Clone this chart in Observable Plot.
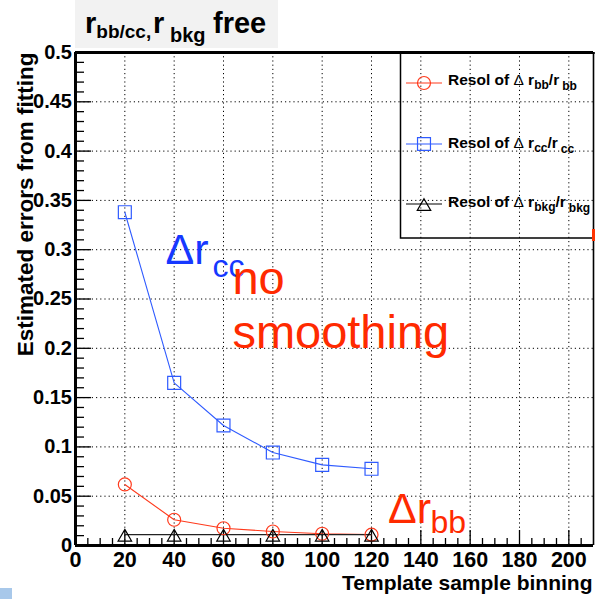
<!DOCTYPE html>
<html><head><meta charset="utf-8">
<script src="https://cdn.jsdelivr.net/npm/d3@7"></script>
<script src="https://cdn.jsdelivr.net/npm/@observablehq/plot@0.6"></script>
<style>
html,body{margin:0;padding:0;background:#fff;overflow:hidden;width:595px;height:599px;}
#wrap{position:relative;width:595px;height:599px;overflow:hidden;font-family:"Liberation Sans",Arial,sans-serif;}
#wrap > svg{position:absolute;left:0;top:0;}
#overlay{pointer-events:none;}
</style></head><body><div id="wrap"></div>
<script>
// ---- data ----
const binning   = [20, 40, 60, 80, 100, 120];
const resolBB   = [0.0619, 0.0261, 0.0175, 0.0142, 0.0119, 0.0110];
const resolCC   = [0.338, 0.165, 0.1217, 0.0943, 0.0818, 0.0778];
const resolBkg  = [0.011, 0.011, 0.011, 0.011, 0.011, 0.011];
const xTicks = [0, 20, 40, 60, 80, 100, 120, 140, 160, 180, 200];
const yTicks = [0, 0.05, 0.1, 0.15, 0.2, 0.25, 0.3, 0.35, 0.4, 0.45, 0.5];
const yTickLabels = ["0", "0.05", "0.1", "0.15", "0.2", "0.25", "0.3", "0.35", "0.4", "0.45", "0.5"];
const xMinor = d3.range(5, 210, 5).filter(v => v % 20 !== 0);
const yMinor = d3.range(1, 50).map(v => v / 100).filter(v => Math.round(v * 100) % 5 !== 0);
const xDomain = [0, 210], yDomain = [0, 0.5];

const RED = "#ff3a1c", BLUE = "#2f5bff", RED_T = "#ff2a00", BLUE_T = "#1638ff";

const rows = binning.map((b, i) => ({bin: b, bb: resolBB[i], cc: resolCC[i], bkg: resolBkg[i]}));

const W = 595, H = 599, mL = 75, mR = 2, mT = 52, mB = 54;
const pxX = (W - mL - mR) / (xDomain[1] - xDomain[0]);   // px per x unit
const pxY = (H - mT - mB) / (yDomain[1] - yDomain[0]);   // px per y unit
const bold = {fontWeight: "bold", fill: "black"};

const chart = Plot.plot({
  width: W, height: H,
  marginLeft: mL, marginRight: mR, marginTop: mT, marginBottom: mB,
  style: {fontFamily: "'Liberation Sans', Arial, sans-serif", background: "transparent", overflow: "visible"},
  x: {domain: xDomain, axis: null},
  y: {domain: yDomain, axis: null},
  marks: [
    // dotted grid
    Plot.ruleX(xTicks.slice(1), {x: d => d, stroke: "black", strokeWidth: 1, strokeDasharray: "1.2,3"}),
    Plot.ruleY(yTicks.slice(1, -1), {y: d => d, stroke: "black", strokeWidth: 1, strokeDasharray: "1.2,3"}),
    // ticks
    Plot.ruleX(xMinor, {x: d => d, y1: 0, y2: 7 / pxY, stroke: "black", strokeWidth: 1.3}),
    Plot.ruleX(xTicks, {x: d => d, y1: 0, y2: 15 / pxY, stroke: "black", strokeWidth: 1.3}),
    Plot.ruleY(yMinor, {y: d => d, x1: 0, x2: 9 / pxX, stroke: "black", strokeWidth: 1.3}),
    Plot.ruleY(yTicks, {y: d => d, x1: 0, x2: 16 / pxX, stroke: "black", strokeWidth: 1.3}),
    // frame
    Plot.ruleY([0], {stroke: "black", strokeWidth: 3}),
    Plot.ruleY([0.5], {stroke: "black", strokeWidth: 3}),
    Plot.ruleX([0], {stroke: "black", strokeWidth: 3}),
    Plot.ruleX([210], {stroke: "black", strokeWidth: 1.6}),
    // tick labels
    Plot.text(xTicks, {x: d => d, y: 0, text: d => String(d), dy: 15, fontSize: 21.5, lineAnchor: "middle", ...bold}),
    Plot.text(yTicks, {x: 0, y: d => d, text: (d, i) => yTickLabels[i], dx: -3.5, textAnchor: "end", fontSize: 20, lineAnchor: "middle", ...bold}),
    // axis titles
    Plot.text(["Estimated errors from fitting"], {frameAnchor: "top-left", text: d => d, rotate: -90, textAnchor: "end", lineAnchor: "bottom", dx: -43, dy: 0, fontSize: 22.5, ...bold}),
    Plot.text(["Template sample binning"], {frameAnchor: "bottom-right", text: d => d, textAnchor: "end", lineAnchor: "bottom", dx: -1, dy: 44, fontSize: 21, ...bold}),
    // series
    Plot.lineY(rows, {x: "bin", y: "cc", stroke: BLUE, strokeWidth: 1.1}),
    Plot.lineY(rows, {x: "bin", y: "bb", stroke: RED, strokeWidth: 1.1}),
    Plot.lineY(rows, {x: "bin", y: "bkg", stroke: "#222", strokeWidth: 1.1}),
    Plot.dot(rows, {x: "bin", y: "cc", symbol: "square", r: 7.3, stroke: BLUE, fill: "none", strokeWidth: 1.2}),
    Plot.dot(rows, {x: "bin", y: "bb", symbol: "circle", r: 6.5, stroke: RED, fill: "none", strokeWidth: 1.2}),
    Plot.dot(rows, {x: "bin", y: "bkg", symbol: "triangle", r: 5, stroke: "black", fill: "none", strokeWidth: 1.2, dy: 2.5}),
    // annotations
    Plot.text(["\u0394r"], {x: 36.5, y: 0.285, text: d => d, textAnchor: "start", lineAnchor: "bottom", fontSize: 43, fill: BLUE_T}),
    Plot.text(["cc"], {x: 55.5, y: 0.272, text: d => d, textAnchor: "start", lineAnchor: "bottom", fontSize: 32, fill: BLUE_T}),
    Plot.text(["no"], {x: 63.6, y: 0.2546, text: d => d, textAnchor: "start", lineAnchor: "bottom", fontSize: 47, fill: RED_T}),
    Plot.text(["smoothing"], {x: 63.6, y: 0.1998, text: d => d, textAnchor: "start", lineAnchor: "bottom", fontSize: 47, fill: RED_T}),
    Plot.text(["\u0394r"], {x: 126.7, y: 0.0233, text: d => d, textAnchor: "start", lineAnchor: "bottom", fontSize: 43, fill: RED_T}),
    Plot.text(["bb"], {x: 143.9, y: 0.0122, text: d => d, textAnchor: "start", lineAnchor: "bottom", fontSize: 32, fill: RED_T})
  ]
});
const wrap = document.getElementById("wrap");
wrap.appendChild(chart);

// ---- title box and legend overlay ----
const legendItems = [
  {sub: "bb", color: RED, symbol: d3.symbolCircle, r: 6.5, y: 83, base: 85},
  {sub: "cc", color: BLUE, symbol: d3.symbolSquare, r: 7.3, y: 144, base: 148},
  {sub: "bkg", color: "black", symbol: d3.symbolTriangle, r: 5, y: 204, base: 207}
];
const ov = d3.create("svg").attr("id", "overlay").attr("width", W).attr("height", H)
  .style("font-family", "'Liberation Sans', Arial, sans-serif");
ov.append("rect").attr("x", 75).attr("y", 0).attr("width", 203).attr("height", 48).attr("fill", "#f2f2f2");
const t = ov.append("text").attr("x", 85).attr("y", 33).attr("font-weight", "bold").attr("font-size", 29);
t.append("tspan").text("r");
t.append("tspan").attr("font-size", 19).attr("dy", 5).text("bb/cc,");
t.append("tspan").attr("x", 153).attr("dy", -5).text("r");
t.append("tspan").attr("font-size", 20).attr("x", 170).attr("dy", 9).text("bkg");
t.append("tspan").attr("x", 213).attr("dy", -9).text("free");

ov.append("rect").attr("x", 400.5).attr("y", 53).attr("width", 220).attr("height", 185)
  .attr("fill", "none").attr("stroke", "black").attr("stroke-width", 1.5);
for (const it of legendItems) {
  ov.append("line").attr("x1", 406).attr("x2", 442).attr("y1", it.y).attr("y2", it.y)
    .attr("stroke", it.color).attr("stroke-width", 1.1);
  ov.append("path").attr("d", d3.symbol(it.symbol, it.r * it.r * Math.PI)())
    .attr("transform", `translate(424,${it.y + (it.symbol === d3.symbolTriangle ? 2.5 : 0)})`)
    .attr("fill", "none").attr("stroke", it.color).attr("stroke-width", 1.2);
  const tx = ov.append("text").attr("x", 448).attr("y", it.base).attr("font-size", 15.5).attr("font-weight", "bold");
  tx.append("tspan").text("Resol of ");
  tx.append("tspan").attr("font-weight", "normal").text("\u0394");
  tx.append("tspan").text(" r");
  tx.append("tspan").attr("font-size", 12).attr("dy", 4).text(it.sub);
  tx.append("tspan").attr("dy", -4).text("/r");
  tx.append("tspan").attr("font-size", 12).attr("dy", 5).attr("dx", 3).text(it.sub);
}
// small edge artifacts in the reference picture
ov.append("rect").attr("x", 592).attr("y", 229).attr("width", 4).attr("height", 12).attr("fill", "#ff3300");
ov.append("rect").attr("x", 0).attr("y", 588).attr("width", 12).attr("height", 11).attr("fill", "#a8c8ea");
wrap.appendChild(ov.node());
</script></body></html>
